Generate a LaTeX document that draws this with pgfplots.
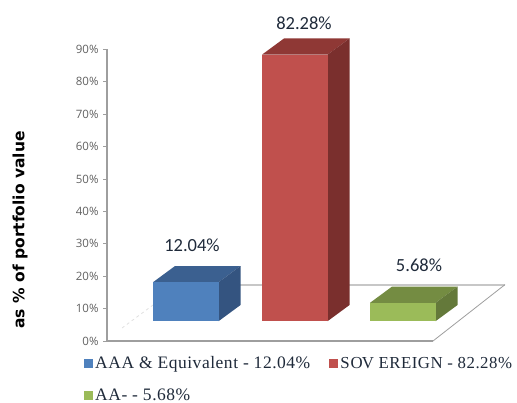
\documentclass[border=0pt]{standalone}
\usepackage{pgfplots}
\pgfplotsset{compat=1.18}
\usepackage{fontspec}
\setmainfont{Liberation Serif}
\newfontfamily\legfont[LetterSpace=3]{Liberation Serif}
\newfontfamily\tickfont{Open Sans}
\newfontfamily\labfont{Carlito}
\newfontfamily\titlefont{DejaVu Sans}
\definecolor{bluef}{HTML}{4F81BD}\definecolor{bluet}{HTML}{3B6090}\definecolor{blues}{HTML}{345480}
\definecolor{redf}{HTML}{C0504D}\definecolor{redt}{HTML}{8F3835}\definecolor{reds}{HTML}{7A2F2D}
\definecolor{greenf}{HTML}{9BBB59}\definecolor{greent}{HTML}{748C42}\definecolor{greens}{HTML}{64793A}
\definecolor{txt}{HTML}{1F2A3A}
% x in reference pixels, y in percent; the bars stand 6.1 above the axis floor, depth 22 px / 5 %
\newcommand{\threedbar}[6]{%
  \pgfmathsetmacro{\xa}{#1}\pgfmathsetmacro{\xb}{#1+65.5}\pgfmathsetmacro{\xc}{#1+87.5}\pgfmathsetmacro{\xe}{#1+22}
  \pgfmathsetmacro{\ya}{6.1}\pgfmathsetmacro{\yb}{6.1+#2}\pgfmathsetmacro{\yc}{6.1+#2+5}\pgfmathsetmacro{\yd}{6.1+5}
  \edef\doit{\noexpand\addplot[fill=#5,draw=none,forget plot] coordinates {(\xa,\yb)(\xb,\yb)(\xc,\yc)(\xe,\yc)} --cycle;}\doit
  \edef\doit{\noexpand\addplot[fill=#6,draw=none,forget plot] coordinates {(\xb,\ya)(\xc,\yd)(\xc,\yc)(\xb,\yb)} --cycle;}\doit
  \edef\doit{\noexpand\addplot[fill=#4,draw=none] coordinates {(\xa,\ya)(\xb,\ya)(\xb,\yb)(\xa,\yb)} --cycle;}\doit
  \addlegendentry{#3}
}
\begin{document}
\begin{tikzpicture}[x=1pt,y=1pt]
\path[use as bounding box] (0,0) rectangle (517,403);
\begin{axis}[
  at={(107pt,62pt)},anchor=origin,
  scale only axis,width=410pt,height=291.6pt,
  xmin=107,xmax=517,ymin=0,ymax=90,
  clip=false,
  axis lines=left,
  x axis line style={draw=none,-},
  y axis line style={draw=black!38,line width=1.6pt,-},
  xtick=\empty,
  ytick={0,10,...,90},
  tick style={draw=black!38,line width=0.8pt},
  major tick length=4pt,
  tick align=outside,
  /pgf/number format/assume math mode=true,
  yticklabel style={font=\tickfont\fontsize{11.5}{12}\selectfont,text=black!62,xshift=-1pt},
  yticklabel={\pgfmathprintnumber{\tick}\%},
  legend columns=2,
  legend cell align=left,
  legend style={at={(axis cs:84,-4.2)},anchor=north west,draw=none,fill=none,
    font=\legfont\fontsize{17.5}{19}\selectfont,text=txt,
    /tikz/every even column/.append style={column sep=17pt},
    row sep=14pt,inner sep=0pt},
  legend image code/.code={\fill[#1] (0pt,-4.5pt) rectangle (9pt,4.5pt);},
]
% floor
\addplot[draw=black!12,line width=0.8pt,dashed,forget plot] coordinates {(122,4)(153,11.1)};
\addplot[draw=black!22,line width=2pt,forget plot] coordinates {(179,17.4)(505,17.4)};
\addplot[draw=black!38,line width=1.2pt,forget plot] coordinates {(107,0)(433,0)};
\addplot[draw=black!38,line width=0.8pt,forget plot] coordinates {(433,0)(505,17.4)};
% bars
\threedbar{153}{12.04}{AAA \& Equivalent - 12.04\%}{bluef}{bluet}{blues}
\threedbar{262}{82.28}{{\fontsize{16.8}{19}\selectfont S\kern1pt O\kern-1pt V EREIGN - 82.28\%}}{redf}{redt}{reds}
\threedbar{370}{5.68}{AA- - 5.68\%}{greenf}{greent}{greens}
\node[font=\labfont\fontsize{18.5}{20}\selectfont,text=txt] at (axis cs:192,29.6) {12.04\%};
\node[font=\labfont\fontsize{18.5}{20}\selectfont,text=txt] at (axis cs:304,98.2) {82.28\%};
\node[font=\labfont\fontsize{18.5}{20}\selectfont,text=txt] at (axis cs:419,23.5) {5.68\%};
\end{axis}
\node[rotate=90,font=\titlefont\bfseries\fontsize{15.5}{17}\selectfont] at (20,173) {as \% of portfolio value};
\end{tikzpicture}
\end{document}
